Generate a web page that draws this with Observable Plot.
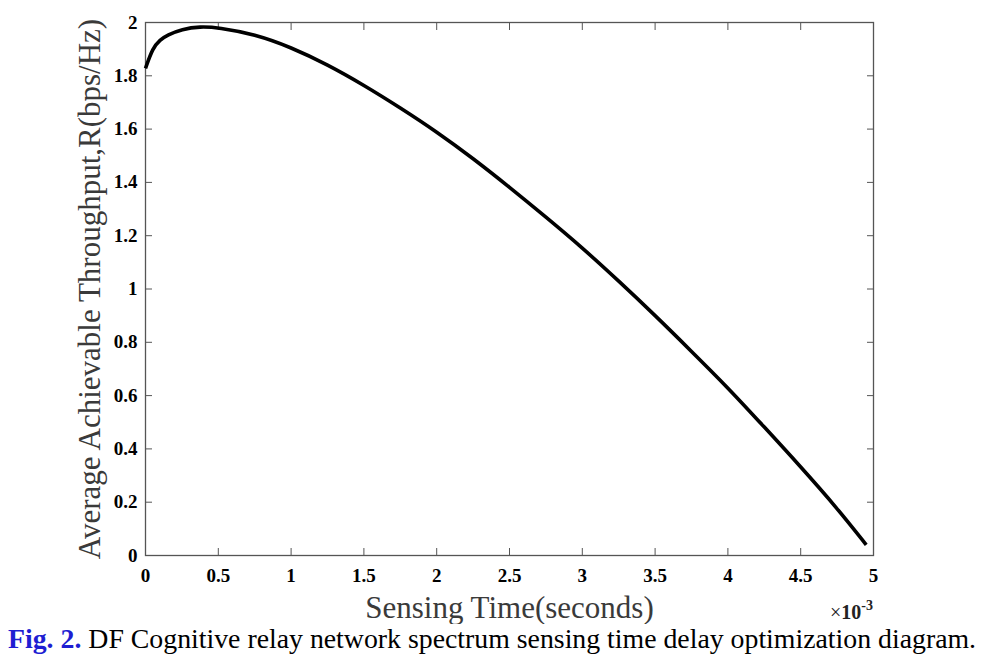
<!DOCTYPE html>
<html>
<head>
<meta charset="utf-8">
<script src="https://cdn.jsdelivr.net/npm/d3@7"></script>
<script src="https://cdn.jsdelivr.net/npm/@observablehq/plot@0.6"></script>
<style>
  html, body { margin: 0; padding: 0; background: #fff; }
  #wrap { position: relative; width: 994px; height: 662px; overflow: hidden; font-family: "Liberation Serif", "Times New Roman", serif; }
  #exp { position: absolute; right: 121px; top: 595px; font-size: 20px; line-height: 24px; color: #222; white-space: nowrap; }
  #exp b sup { font-size: 14px; position: relative; top: -1px; }
  #cap { position: absolute; left: 8px; top: 623px; font-size: 27.8px; line-height: 32px; color: #000; white-space: nowrap; }
  #cap b { color: #1e1ed2; }
  #chart svg g[aria-label$="tick label"] text { font-size: 19px !important; font-weight: bold !important; }
</style>
</head>
<body>
<div id="wrap">
  <div id="chart"></div>
  <div id="exp">×<b>10<sup>-3</sup></b></div>
  <div id="cap"><b>Fig. 2.</b> DF Cognitive relay network spectrum sensing time delay optimization diagram.</div>
</div>
<script>
// Sensing time (×10^-3 s)
const sensingTime = [0, 0.05, 0.1, 0.15, 0.25, 0.375, 0.5, 0.75, 1.0, 1.25, 1.5, 1.75, 2.0, 2.25, 2.5, 2.75, 3.0, 3.25, 3.5, 3.75, 4.0, 4.25, 4.5, 4.75, 4.95];
// Average achievable throughput R (bps/Hz)
const throughput = [1.828, 1.905, 1.935, 1.953, 1.975, 1.985, 1.981, 1.956, 1.907, 1.842, 1.765, 1.680, 1.590, 1.490, 1.382, 1.270, 1.155, 1.030, 0.901, 0.766, 0.630, 0.482, 0.333, 0.178, 0.040];
const xTicks = [0, 0.5, 1, 1.5, 2, 2.5, 3, 3.5, 4, 4.5, 5];
const yTicks = [0, 0.2, 0.4, 0.6, 0.8, 1, 1.2, 1.4, 1.6, 1.8, 2];
const xLabel = "Sensing Time(seconds)";
const yLabel = "Average Achievable Throughput,R(bps/Hz)";

const data = sensingTime.map((t, i) => ({t, r: throughput[i]}));
const fmt = d => String(+d.toFixed(1));

const chart = Plot.plot({
  width: 994,
  height: 624,
  marginTop: 22,
  marginBottom: 69,
  marginLeft: 145,
  marginRight: 121,
  style: {background: "#fff", fontFamily: "'Liberation Serif', 'Times New Roman', serif", fontSize: "19px", color: "#000"},
  x: {domain: [0, 5]},
  y: {domain: [0, 2]},
  marks: [
    Plot.frame({stroke: "#555", strokeWidth: 1.3}),
    Plot.axisX(xTicks, {anchor: "bottom", tickSize: -7, tickPadding: 20, tickFormat: fmt, stroke: "#555",
      fill: "#000", fontWeight: "bold",
      label: xLabel, labelAnchor: "center", labelOffset: 62, labelArrow: "none"}),
    Plot.axisX(xTicks, {anchor: "top", tickSize: -7, tickFormat: () => "", stroke: "#555", label: null}),
    Plot.axisY(yTicks, {anchor: "left", tickSize: -7, tickPadding: 15, tickFormat: fmt, stroke: "#555",
      fill: "#000", fontWeight: "bold",
      label: yLabel, labelAnchor: "center", labelOffset: 68, labelArrow: "none"}),
    Plot.axisY(yTicks, {anchor: "right", tickSize: -7, tickFormat: () => "", stroke: "#555", label: null}),
    Plot.line(data, {x: "t", y: "r", stroke: "#000", strokeWidth: 3.6, curve: "basis", strokeLinecap: "butt"})
  ]
});
document.getElementById("chart").appendChild(chart);

// axis titles: large, normal weight, grey
d3.select(chart).selectAll("text").each(function() {
  const g = this.parentNode;
  const aria = (g && g.getAttribute && g.getAttribute("aria-label")) || "";
  if (/axis label$/.test(aria)) {
    d3.select(this).style("font-size", "31px").style("font-weight", "normal").attr("fill", "#3a3a3a");
    d3.select(g).attr("font-size", 31).attr("font-weight", "normal");
  }
});
</script>
</body>
</html>
